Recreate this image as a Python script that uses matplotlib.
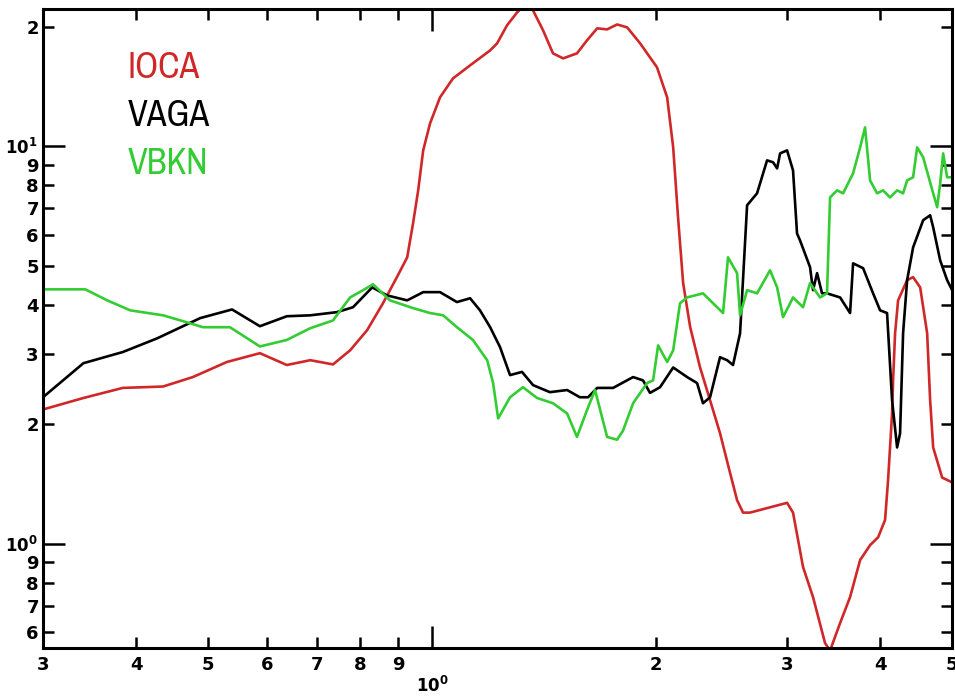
import matplotlib
matplotlib.use("Agg")
import matplotlib.pyplot as plt
from matplotlib import font_manager

# ---- data ----
ioca_x = [0.300, 0.340, 0.384, 0.435, 0.477, 0.530, 0.587, 0.638, 0.686, 0.736, 0.776, 0.818,
          0.859, 0.897, 0.926, 0.943, 0.958, 0.973, 0.994, 1.025, 1.067, 1.125, 1.197, 1.223,
          1.261, 1.301, 1.321, 1.342, 1.367, 1.410, 1.454, 1.500, 1.566, 1.615, 1.667, 1.719,
          1.773, 1.829, 1.904, 2.006, 2.070, 2.109, 2.141, 2.175, 2.223, 2.292, 2.364, 2.438,
          2.515, 2.570, 2.618, 2.675, 3.000, 3.056, 3.152, 3.251, 3.374, 3.427, 3.535, 3.646,
          3.761, 3.879, 3.976, 4.063, 4.101, 4.152, 4.165, 4.191, 4.230, 4.350, 4.431, 4.529,
          4.628, 4.671, 4.715, 4.848, 5.000]
ioca_y = [2.18, 2.33, 2.47, 2.49, 2.63, 2.87, 3.02, 2.82, 2.90, 2.83, 3.07, 3.45,
          4.03, 4.69, 5.26, 6.41, 7.75, 9.77, 11.43, 13.28, 14.82, 15.98, 17.43, 18.15,
          20.14, 21.71, 22.35, 23.5, 21.96, 19.57, 17.13, 16.64, 17.13, 18.46, 19.80, 19.68,
          20.25, 19.91, 18.15, 15.80, 13.28, 9.94, 6.63, 4.53, 3.51, 2.78, 2.30, 1.90,
          1.51, 1.29, 1.20, 1.20, 1.27, 1.20, 0.876, 0.736, 0.564, 0.54, 0.633, 0.736,
          0.912, 0.994, 1.04, 1.15, 1.45, 2.13, 2.58, 3.39, 4.10, 4.61, 4.69, 4.42,
          3.39, 2.30, 1.75, 1.47, 1.43]

vaga_x = [0.300, 0.340, 0.384, 0.427, 0.488, 0.5385, 0.587, 0.638, 0.686, 0.745, 0.783, 0.831,
          0.870, 0.926, 0.973, 1.025, 1.080, 1.125, 1.160, 1.197, 1.234, 1.273, 1.321, 1.367,
          1.440, 1.519, 1.580, 1.621, 1.667, 1.751, 1.863, 1.921, 1.963, 2.025, 2.109, 2.202,
          2.271, 2.313, 2.364, 2.438, 2.492, 2.538, 2.594, 2.651, 2.734, 2.820, 2.873, 2.909,
          2.936, 3.000, 3.056, 3.094, 3.123, 3.221, 3.251, 3.292, 3.343, 3.395, 3.535, 3.646,
          3.680, 3.796, 3.915, 4.001, 4.088, 4.152, 4.217, 4.256, 4.296, 4.350, 4.431, 4.571,
          4.671, 4.715, 4.818, 4.923, 5.000]
vaga_y = [2.34, 2.85, 3.04, 3.29, 3.70, 3.89, 3.53, 3.74, 3.76, 3.83, 3.94, 4.42,
          4.22, 4.10, 4.30, 4.30, 4.06, 4.15, 3.87, 3.51, 3.13, 2.66, 2.71, 2.51,
          2.41, 2.44, 2.34, 2.34, 2.47, 2.47, 2.63, 2.58, 2.40, 2.48, 2.78, 2.63,
          2.54, 2.26, 2.34, 2.95, 2.90, 2.82, 3.39, 7.11, 7.62, 9.22, 9.12, 8.80,
          9.60, 9.77, 8.70, 6.04, 5.80, 4.97, 4.35, 4.80, 4.27, 4.27, 4.17, 3.81,
          5.08, 4.94, 4.27, 3.87, 3.81, 2.30, 1.75, 1.90, 3.39, 4.61, 5.57, 6.52,
          6.71, 6.26, 5.17, 4.61, 4.35]

vbkn_x = [0.300, 0.342, 0.366, 0.393, 0.435, 0.4685, 0.492, 0.535, 0.587, 0.638, 0.686, 0.736,
          0.776, 0.808, 0.833, 0.878, 0.943, 0.994, 1.035, 1.080, 1.135, 1.186, 1.208, 1.227,
          1.273, 1.325, 1.384, 1.454, 1.519, 1.566, 1.615, 1.656, 1.719, 1.773, 1.806, 1.863,
          1.945, 1.982, 2.013, 2.070, 2.109, 2.154, 2.202, 2.313, 2.416, 2.461, 2.499, 2.570,
          2.594, 2.651, 2.734, 2.846, 2.909, 2.963, 3.056, 3.152, 3.221, 3.322, 3.395, 3.427,
          3.502, 3.568, 3.680, 3.761, 3.819, 3.879, 3.964, 4.038, 4.126, 4.217, 4.296, 4.350,
          4.431, 4.487, 4.571, 4.715, 4.774, 4.818, 4.863, 4.923, 5.000]
vbkn_y = [4.37, 4.37, 4.10, 3.87, 3.76, 3.61, 3.51, 3.51, 3.14, 3.26, 3.49, 3.65,
          4.17, 4.35, 4.50, 4.10, 3.92, 3.81, 3.76, 3.51, 3.26, 2.90, 2.54, 2.07,
          2.34, 2.48, 2.33, 2.26, 2.13, 1.86, 2.17, 2.44, 1.86, 1.83, 1.93, 2.26,
          2.54, 2.58, 3.16, 2.87, 3.07, 4.03, 4.17, 4.27, 3.94, 3.81, 5.26, 4.80,
          3.76, 4.35, 4.27, 4.88, 4.42, 3.72, 4.17, 3.94, 4.53, 4.17, 4.27, 7.44,
          7.75, 7.62, 8.55, 9.94, 11.16, 8.21, 7.62, 7.75, 7.44, 7.75, 7.62, 8.21,
          8.36, 9.94, 9.385, 7.62, 7.03, 8.07, 9.60, 8.36, 8.36]

series_names = ["IOCA", "VAGA", "VBKN"]
series_colors = ["#d02828", "#000000", "#33cc33"]

x_minor_ticks = [0.3, 0.4, 0.5, 0.6, 0.7, 0.8, 0.9, 2, 3, 4, 5]
x_minor_labels = ["3", "4", "5", "6", "7", "8", "9", "2", "3", "4", "5"]
x_major_ticks = [1]
x_major_labels = [r"$\mathbf{10^0}$"]
y_minor_ticks = [0.6, 0.7, 0.8, 0.9, 2, 3, 4, 5, 6, 7, 8, 9, 20]
y_minor_labels = ["6", "7", "8", "9", "2", "3", "4", "5", "6", "7", "8", "9", "2"]
y_major_ticks = [1, 10]
y_major_labels = [r"$\mathbf{10^0}$", r"$\mathbf{10^1}$"]

# pick a condensed face if one is installed (for the series labels)
cond_family = "DejaVu Sans"
for f in font_manager.fontManager.ttflist:
    if "Condensed" in f.name or "Narrow" in f.name:
        cond_family = f.name
        break

# ---- figure ----
fig = plt.figure(figsize=(9.55, 6.98), dpi=100)
ax = fig.add_axes([0.045, 0.0716, 0.952, 0.915])

for xs, ys, c in zip([ioca_x, vaga_x, vbkn_x], [ioca_y, vaga_y, vbkn_y], series_colors):
    ax.plot(xs, ys, color=c, lw=1.9, solid_joinstyle="round")

ax.set_xscale("log")
ax.set_yscale("log")
ax.set_xlim(0.3, 5.0)
ax.set_ylim(0.548, 22.1)

tick_font = dict(family="DejaVu Sans", weight="bold", size=13)
maj_font = dict(family="DejaVu Sans", weight="bold", size=12)

ax.set_xticks(x_major_ticks)
ax.set_xticklabels(x_major_labels, fontdict=maj_font)
ax.set_xticks(x_minor_ticks, minor=True)
ax.set_xticklabels(x_minor_labels, minor=True, fontdict=tick_font)
ax.set_yticks(y_major_ticks)
ax.set_yticklabels(y_major_labels, fontdict=maj_font)
ax.set_yticks(y_minor_ticks, minor=True)
ax.set_yticklabels(y_minor_labels, minor=True, fontdict=tick_font)

ax.tick_params(which="both", direction="in", top=True, right=True, width=1.8, color="black")
ax.tick_params(which="major", length=16)
ax.tick_params(which="minor", length=8)
ax.tick_params(axis="x", which="minor", pad=6)
ax.tick_params(axis="x", which="major", pad=20)
ax.tick_params(axis="y", which="minor", pad=3)
ax.tick_params(axis="y", which="major", pad=4)

for s in ax.spines.values():
    s.set_linewidth(2.2)

ypos = [0.909, 0.834, 0.759]
for name, c, yy in zip(series_names, series_colors, ypos):
    ax.text(0.0935, yy, name, transform=ax.transAxes, color=c, fontsize=26,
            family=[cond_family, "DejaVu Sans"], stretch="condensed", va="center", ha="left")

fig.savefig("out.png", dpi=100)
